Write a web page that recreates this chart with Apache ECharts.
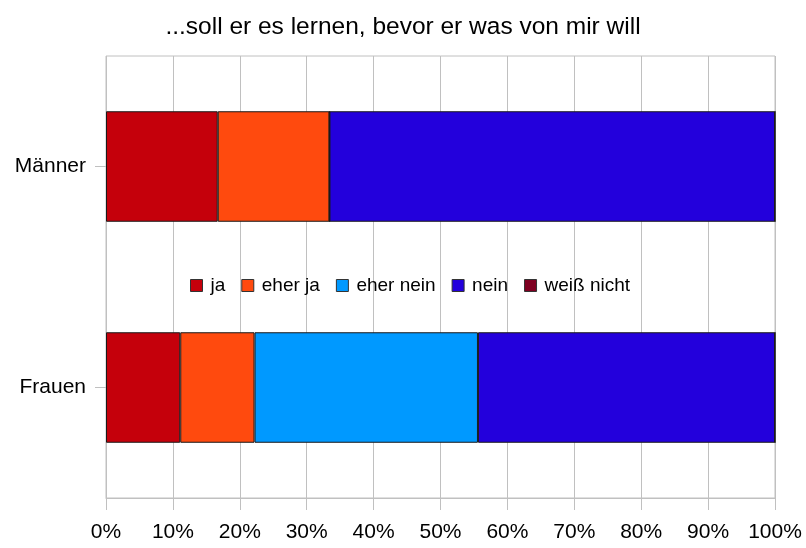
<!DOCTYPE html>
<html>
<head>
<meta charset="utf-8">
<script src="https://cdn.jsdelivr.net/npm/echarts@6/dist/echarts.min.js"></script>
<style>
  html, body { margin: 0; padding: 0; background: #fff; }
  #chart { width: 806px; height: 548px; }
</style>
</head>
<body>
<div id="chart"></div>
<script>
// ------------------ Daten ------------------
var categories = ['Frauen', 'Männer'];
var seriesNames = ['ja', 'eher ja', 'eher nein', 'nein', 'weiß nicht'];
var seriesColors = ['#c5000b', '#ff4a0e', '#0099ff', '#2300dc', '#7e0021'];
// Werte in Prozent, Reihenfolge wie categories
var jaValues = [11.1, 16.7];
var eherJaValues = [11.1, 16.7];
var eherNeinValues = [33.4, 0];
var neinValues = [44.4, 66.6];
var weissNichtValues = [0, 0];
var xTicks = [0, 10, 20, 30, 40, 50, 60, 70, 80, 90, 100];

var allValues = [jaValues, eherJaValues, eherNeinValues, neinValues, weissNichtValues];

var myChart = echarts.init(document.getElementById('chart'));

var series = [];
for (var i = 0; i < seriesNames.length; i++) {
    series.push({
        name: seriesNames[i],
        type: 'bar',
        stack: 'gesamt',
        barWidth: '50%',
        data: allValues[i],
        itemStyle: {
            color: seriesColors[i],
            borderColor: '#1a1a1a',
            borderWidth: 1
        }
    });
}

var option = {
    animation: false,
    color: seriesColors,
    title: {
        text: '...soll er es lernen, bevor er was von mir will',
        left: 'center',
        top: 10,
        textStyle: {
            fontFamily: 'Liberation Sans',
            fontSize: 24.5,
            fontWeight: 'normal',
            color: '#000'
        }
    },
    legend: {
        data: seriesNames,
        left: 185,
        top: 271,
        itemWidth: 12,
        itemHeight: 12,
        itemGap: 16,
        icon: 'rect',
        itemStyle: { borderColor: '#333', borderWidth: 1 },
        textStyle: {
            fontFamily: 'Liberation Sans',
            fontSize: 19,
            color: '#000',
            padding: [0, 0, 0, 3]
        }
    },
    grid: {
        left: 106,
        right: 31,
        top: 56,
        bottom: 50,
        show: true,
        borderColor: '#c0c0c0',
        borderWidth: 1
    },
    xAxis: {
        type: 'value',
        min: 0,
        max: 100,
        interval: 10,
        axisLine: { show: true, lineStyle: { color: '#c0c0c0' } },
        axisTick: { show: true, length: 12, lineStyle: { color: '#c0c0c0' } },
        splitLine: { show: true, lineStyle: { color: '#c0c0c0' } },
        axisLabel: {
            margin: 24,
            fontFamily: 'Liberation Sans',
            fontSize: 21,
            color: '#000',
            formatter: function (v) { return xTicks.indexOf(v) >= 0 ? v + '%' : ''; }
        }
    },
    yAxis: {
        type: 'category',
        data: categories,
        axisLine: { show: false },
        axisTick: { show: true, alignWithLabel: true, length: 11, lineStyle: { color: '#c0c0c0' } },
        splitLine: { show: false },
        axisLabel: {
            margin: 20,
            fontFamily: 'Liberation Sans',
            fontSize: 21,
            color: '#000'
        }
    },
    series: series
};
myChart.setOption(option);
</script>
</body>
</html>
